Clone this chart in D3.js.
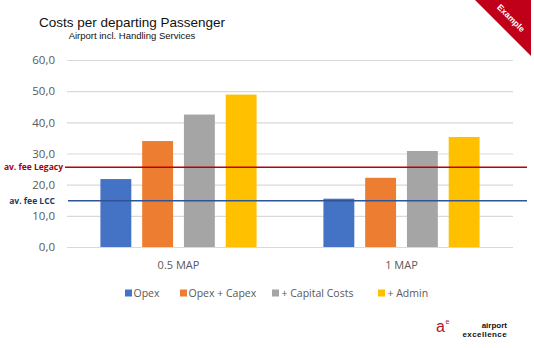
<!DOCTYPE html>
<html>
<head>
<meta charset="utf-8">
<script src="https://cdn.jsdelivr.net/npm/d3@7"></script>
<style>
  html, body { margin: 0; padding: 0; background: #fff; }
  svg { display: block; }
</style>
</head>
<body>
<svg id="chart" width="534" height="348"></svg>
<script>
// Cost per departing passenger by airport size (EUR)
const categories = ["0.5 MAP", "1 MAP"];
const seriesNames = ["Opex", "Opex + Capex", "+ Capital Costs", "+ Admin"];
const opex        = [21.8, 15.5];
const opexCapex   = [34.0, 22.2];
const capitalCost = [42.5, 30.8];
const admin       = [48.9, 35.3];
const yTicks      = [0, 10, 20, 30, 40, 50, 60];
const feeLegacy   = 25.6;
const feeLCC      = 14.8;

const seriesValues = [opex, opexCapex, capitalCost, admin];
const colors = ["#4472C4", "#ED7D31", "#A5A5A5", "#FFC000"];

const svg = d3.select("#chart");
const plot = { left: 67, right: 513, top: 60, bottom: 247 };

const y = d3.scaleLinear().domain([0, 60]).range([plot.bottom, plot.top]);
const x0 = d3.scaleBand().domain(categories).range([plot.left, plot.right]).paddingInner(0).paddingOuter(0);
const x1 = d3.scaleBand().domain(seriesNames).range([0, x0.bandwidth()]).paddingInner(0.26).paddingOuter(0.8);

const fmt = v => d3.format(".1f")(v).replace(".", ",");

// Title
svg.append("text").attr("x", 132).attr("y", 27).attr("text-anchor", "middle")
  .attr("font-family", "Liberation Sans, Arial, sans-serif").attr("font-size", 13.5).attr("fill", "#111")
  .text("Costs per departing Passenger");
svg.append("text").attr("x", 132).attr("y", 39).attr("text-anchor", "middle")
  .attr("font-family", "Liberation Sans, Arial, sans-serif").attr("font-size", 9.5).attr("fill", "#111")
  .text("Airport incl. Handling Services");

// Gridlines and y-axis labels
const yAxis = d3.axisLeft(y).tickValues(yTicks).tickFormat(fmt)
  .tickSize(-(plot.right - plot.left)).tickPadding(12);
const gy = svg.append("g").attr("transform", `translate(${plot.left},0)`).call(yAxis);
gy.select(".domain").remove();
gy.selectAll(".tick line").attr("stroke", "#d9d9d9").attr("stroke-width", 1.2);
gy.selectAll(".tick text").attr("fill", "#595959")
  .attr("font-family", "Open Sans, sans-serif").attr("font-size", 11.5);

// Bars
const groups = svg.append("g").selectAll("g").data(categories).join("g")
  .attr("transform", d => `translate(${x0(d)},0)`);
groups.selectAll("rect")
  .data((d, i) => seriesNames.map((s, j) => ({ s, v: seriesValues[j][i], c: colors[j] })))
  .join("rect")
  .attr("x", d => x1(d.s)).attr("width", x1.bandwidth())
  .attr("y", d => y(d.v)).attr("height", d => y(0) - y(d.v))
  .attr("fill", d => d.c);

// Category axis labels
const xAxis = d3.axisBottom(x0).tickSize(0).tickPadding(0);
const gx = svg.append("g").attr("transform", `translate(0,${plot.bottom + 14})`).call(xAxis);
gx.select(".domain").remove();
gx.selectAll(".tick text").attr("fill", "#595959")
  .attr("font-family", "Open Sans, sans-serif").attr("font-size", 11).attr("dy", "0.7em");

// Average fee reference lines
const refLines = [
  { v: feeLegacy, label: "av. fee Legacy", color: "#C00000", text: "#A00010", x1: 65, lx: 63 },
  { v: feeLCC, label: "av. fee LCC", color: "#2E5597", text: "#1F3864", x1: 68, lx: 55 }
];
refLines.forEach(r => {
  svg.append("line").attr("x1", r.x1).attr("x2", 527)
    .attr("y1", y(r.v)).attr("y2", y(r.v))
    .attr("stroke", r.color).attr("stroke-width", 1.5);
  svg.append("text").attr("x", r.lx).attr("y", y(r.v)).attr("dy", "0.35em")
    .attr("text-anchor", "end").attr("fill", r.text)
    .attr("font-family", "Open Sans, sans-serif").attr("font-weight", "bold").attr("font-size", 8.5)
    .text(r.label);
});

// Legend
const legendX = [125, 180, 272, 378];
const legend = svg.append("g").selectAll("g").data(seriesNames).join("g")
  .attr("transform", (d, i) => `translate(${legendX[i]},293)`);
legend.append("rect").attr("x", 0).attr("y", -3.5).attr("width", 7).attr("height", 7)
  .attr("fill", (d, i) => colors[i]);
legend.append("text").attr("x", (d, i) => i >= 2 ? 9.5 : 8.5).attr("y", 0).attr("dy", "0.35em")
  .attr("fill", "#595959").attr("font-family", "Open Sans, sans-serif").attr("font-size", 10.5)
  .text(d => d);

// Corner ribbon
svg.append("path").attr("d", "M475,0 L531,0 L531,56 Z").attr("fill", "#C00018");
svg.append("text").attr("transform", "translate(511,18) rotate(45)")
  .attr("text-anchor", "middle").attr("dy", "0.35em")
  .attr("fill", "#fff").attr("font-family", "Liberation Sans, Arial, sans-serif")
  .attr("font-weight", "bold").attr("font-size", 8.5).text("Example");

// Logo
svg.append("text").attr("x", 436).attr("y", 332).attr("fill", "#B0182A")
  .attr("font-family", "Liberation Sans, Arial, sans-serif").attr("font-size", 16).text("a");
svg.append("text").attr("x", 445.5).attr("y", 324).attr("fill", "#B0182A")
  .attr("font-family", "Liberation Sans, Arial, sans-serif").attr("font-size", 7).text("e");
svg.append("text").attr("x", 507).attr("y", 327.5).attr("text-anchor", "end").attr("fill", "#111")
  .attr("font-family", "Liberation Sans, Arial, sans-serif").attr("font-weight", "bold").attr("font-size", 8)
  .text("airport");
svg.append("text").attr("x", 507).attr("y", 337).attr("text-anchor", "end").attr("fill", "#111")
  .attr("font-family", "Liberation Sans, Arial, sans-serif").attr("font-weight", "bold").attr("font-size", 8)
  .attr("letter-spacing", 0.4)
  .text("excellence");
</script>
</body>
</html>
